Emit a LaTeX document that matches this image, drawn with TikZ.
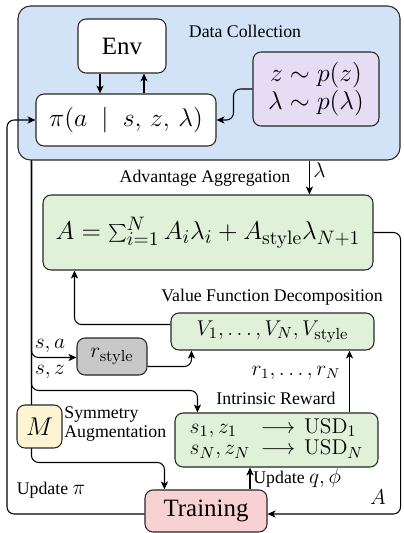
\documentclass[tikz,border=0pt]{standalone}
\usepackage[no-math]{fontspec}
\setmainfont{Liberation Serif}
\usetikzlibrary{arrows.meta,calc}

\definecolor{dcblue}{HTML}{D2E3F8}
\definecolor{smpurple}{HTML}{E6DCF4}
\definecolor{boxgreen}{HTML}{DFF2D9}
\definecolor{rgray}{HTML}{C8C8C8}
\definecolor{trpink}{HTML}{F8D2D2}
\definecolor{myellow}{HTML}{FDF4D3}

\tikzset{
  blk/.style={draw=black!85, line width=0.6pt, rounded corners=4.5pt, inner sep=0pt, align=center},
  arr/.style={-{Stealth[length=4.5pt,width=4pt,inset=1.2pt]}, line width=0.6pt, rounded corners=4pt},
  lbl/.style={font=\fontsize{10}{11}\selectfont, inner sep=0pt},
  mlbl/.style={font=\fontsize{12}{13}\selectfont, inner sep=0pt},
}

\begin{document}
\begin{tikzpicture}[x=0.5618pt, y=-0.5618pt]
\def\u{0.5618pt}
\useasboundingbox (0,0) rectangle (403,533);

% Data collection block
\node[blk, fill=dcblue, rounded corners=7pt, minimum width=382*\u, minimum height=154*\u] (dc) at (209,83) {};
\node[lbl] (dclbl) at (245,31) {Data Collection};
\node[blk, fill=white, minimum width=88*\u, minimum height=54*\u, font=\fontsize{14}{16}\selectfont] (env) at (122,46) {Env};
\node[blk, fill=white, minimum width=180*\u, minimum height=52*\u, font=\fontsize{15}{17}\selectfont] (pol) at (126,120) {$\pi(a\;\mid\;s,\,z,\,\lambda)$};
\node[blk, fill=smpurple, minimum width=126*\u, minimum height=74*\u, font=\fontsize{14}{14}\selectfont] (samp) at (316,89) {$z\sim p(z)$\\$\lambda\sim p(\lambda)$};

% Advantage and value blocks
\node[lbl] (advlbl) at (205,178) {Advantage Aggregation};
\node[blk, fill=boxgreen, minimum width=330*\u, minimum height=75*\u, font=\fontsize{15}{17}\selectfont] (adv) at (208,232.5) {$A=\sum_{i=1}^N A_i\lambda_i+A_{\mathrm{style}}\lambda_{N+1}$};
\node[lbl] (vallbl) at (272,297) {Value Function Decomposition};
\node[blk, fill=boxgreen, minimum width=203*\u, minimum height=37*\u, font=\fontsize{13}{14}\selectfont] (val) at (272.5,331.5) {$V_1,\dots,V_N,V_{\mathrm{style}}$};
\node[blk, fill=rgray, minimum width=70*\u, minimum height=37*\u, font=\fontsize{13}{14}\selectfont] (rsty) at (112,356.5) {$r_{\mathrm{style}}$};

% Intrinsic reward and training
\node[lbl] (intrlbl) at (276,398) {Intrinsic Reward};
\node[blk, fill=boxgreen, minimum width=203*\u, minimum height=54*\u, font=\fontsize{12.5}{12}\selectfont] (intr) at (276.5,440) {%
  \begin{tabular}{@{}l@{\hspace{6pt}}c@{\hspace{5pt}}l@{}}
  $s_1,z_1$ & $\longrightarrow$ & $\mathrm{USD}_1$\\
  $s_N,z_N$ & $\longrightarrow$ & $\mathrm{USD}_N$
  \end{tabular}};
\node[blk, fill=trpink, minimum width=122*\u, minimum height=42*\u, font=\fontsize{14}{16}\selectfont] (train) at (206,511) {Training};

% Connectors inside data collection
\draw[arr] ($(env.south)+(-22,0)$) -- ($(pol.north)+(-26,0)$);
\draw[arr] ($(pol.north)+(18,0)$) -- ($(env.south)+(22,0)$);
\draw[arr] (samp.west) -- ++(-19,0) |- (pol.east);

% Lambda and advantage
\draw[arr] ($(dc.south west)+(292,0)$) coordinate (lam) -- (lam |- adv.north);
\node[mlbl, anchor=west] (lamlbl) at (313,170) {$\lambda$};
\draw[arr] ($(val.west)+(0,-7)$) -| ($(adv.south west)+(32,0)$);
\draw[arr] ($(rsty.east)+(0,10)$) -| ($(val.south west)+(21,0)$);
\draw[arr] ($(intr.north east)+(-29,0)$) coordinate (rr) -- (rr |- val.south);
\node[mlbl] (rlbl) at (296,373) {$r_1,\dots,r_N$};

% Samples from the rollout
\coordinate (tap) at ($(dc.south west)+(14,0)$);
\draw[arr] (tap) |- ($(rsty.west)+(0,1)$);
\draw[arr] (tap) |- ($(intr.north west)+(23,-22)$) -- ($(intr.north west)+(23,0)$);
\draw[arr] (tap) |- ($(train.north west)+(20,-27)$) -- ($(train.north west)+(20,0)$);
\node[mlbl] (salbl) at (50,346) {$s,a$};
\node[mlbl] (szlbl) at (50,372) {$s,z$};
\node[blk, fill=myellow, minimum width=45*\u, minimum height=43*\u, font=\fontsize{13.5}{15}\selectfont] (sym) at (39.5,426.5) {$M$};
\node[lbl, anchor=west, align=left] (symlbl) at (64,424) {Symmetry\\Augmentation};

% Training loops
\draw[arr] ($(train.north)+(44,0)$) coordinate (uq) -- (uq |- intr.south);
\node[lbl, anchor=west] (uqlbl) at (253,478) {Update {\fontsize{12}{13}\selectfont$q,\phi$}};
\coordinate (lft) at (7,0);
\draw[arr] ($(train.west)+(0,3)$) -| (lft |- pol.west) -- (pol.west);
\node[lbl] (uplbl) at (51,490) {Update {\fontsize{12}{13}\selectfont$\pi$}};
\draw[arr] (adv.east) -- (adv.east -| dc.east) |- ($(train.east)+(0,3)$);
\node[mlbl] (albl) at (378,497) {$A$};
\end{tikzpicture}
\end{document}
